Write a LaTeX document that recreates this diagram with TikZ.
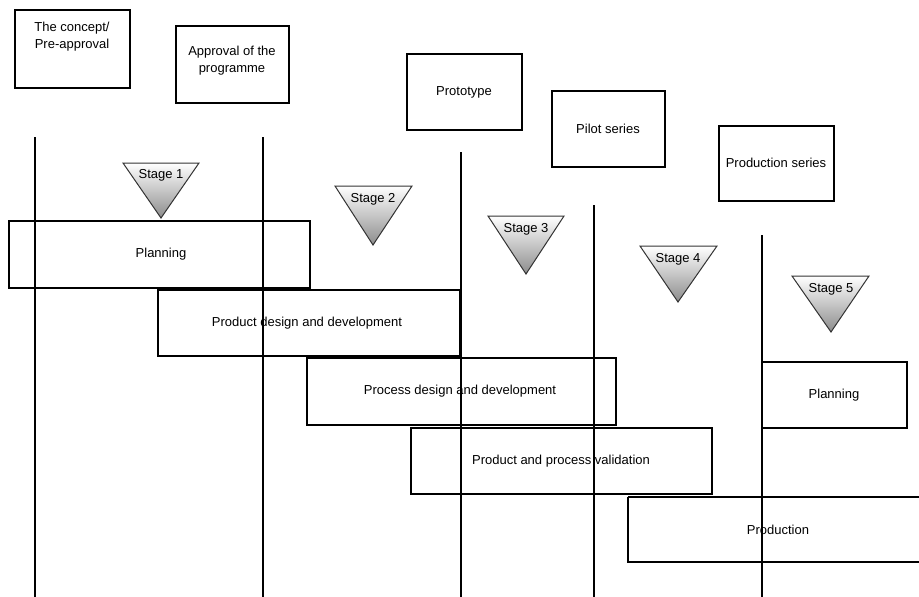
\documentclass[tikz,border=0pt]{standalone}
\usepackage{fontspec}
\setmainfont{Liberation Sans}
\usepackage{tikz}

\tikzset{
  lbl/.style={font=\fontsize{13}{17}\selectfont, align=center, inner sep=0pt},
  stagetri/.style={top color=white, middle color=black!6, bottom color=black!45}
}

\begin{document}
\begin{tikzpicture}[x=1pt,y=-1pt,line width=1.2pt]
\useasboundingbox (0,0) rectangle (919,597);
% milestones
\draw(15,10) rectangle (130,88);
\node[lbl] (concept) at (72,37) {The concept/\\Pre-approval};
\draw(176,26) rectangle (289,103);
\node[lbl] (approval) at (232,61) {Approval of the\\programme};
\draw(407,54) rectangle (522,130);
\node[lbl] (proto) at (464,92) {Prototype};
\draw(552,91) rectangle (665,167);
\node[lbl] (pilot) at (608,129) {Pilot series};
\draw(719,126) rectangle (834,201);
\node[lbl] (prodseries) at (776,163) {Production series};
% stages
\shade[stagetri](123,163)--(199,163)--(161,218)--cycle;
\draw[black!80,line width=1pt](123,163)--(199,163)--(161,218)--cycle;
\node[lbl] (st1) at (161,175) {Stage 1};
\shade[stagetri](335,186)--(412,186)--(373,245)--cycle;
\draw[black!80,line width=1pt](335,186)--(412,186)--(373,245)--cycle;
\node[lbl] (st2) at (373,199) {Stage 2};
\shade[stagetri](488,216)--(564,216)--(526,274)--cycle;
\draw[black!80,line width=1pt](488,216)--(564,216)--(526,274)--cycle;
\node[lbl] (st3) at (526,229) {Stage 3};
\shade[stagetri](640,246)--(717,246)--(678,302)--cycle;
\draw[black!80,line width=1pt](640,246)--(717,246)--(678,302)--cycle;
\node[lbl] (st4) at (678,259) {Stage 4};
\shade[stagetri](792,276)--(869,276)--(831,332)--cycle;
\draw[black!80,line width=1pt](792,276)--(869,276)--(831,332)--cycle;
\node[lbl] (st5) at (831,289) {Stage 5};
% activities
\draw(9,221) rectangle (310,288);
\node[lbl] (plan) at (161,254) {Planning};
\draw(158,290) rectangle (460,356);
\node[lbl] (pdd) at (307,323) {Product design and development};
\draw(307,358) rectangle (616,425);
\node[lbl] (prdd) at (460,391) {Process design and development};
\draw(411,428) rectangle (712,494);
\node[lbl] (valid) at (561,461) {Product and process validation};
\draw(628,497)--(919,497);
\draw(919,562)--(628,562)--(628,497);
\node[lbl] (prod) at (778,530) {Production};
\draw(762,362) rectangle (907,428);
\node[lbl] (plan2) at (834,395) {Planning};
% time lines
\draw(35,137)--(35,597);
\draw(263,137)--(263,597);
\draw(461,152)--(461,597);
\draw(594,205)--(594,597);
\draw(762,235)--(762,597);
\end{tikzpicture}
\end{document}
